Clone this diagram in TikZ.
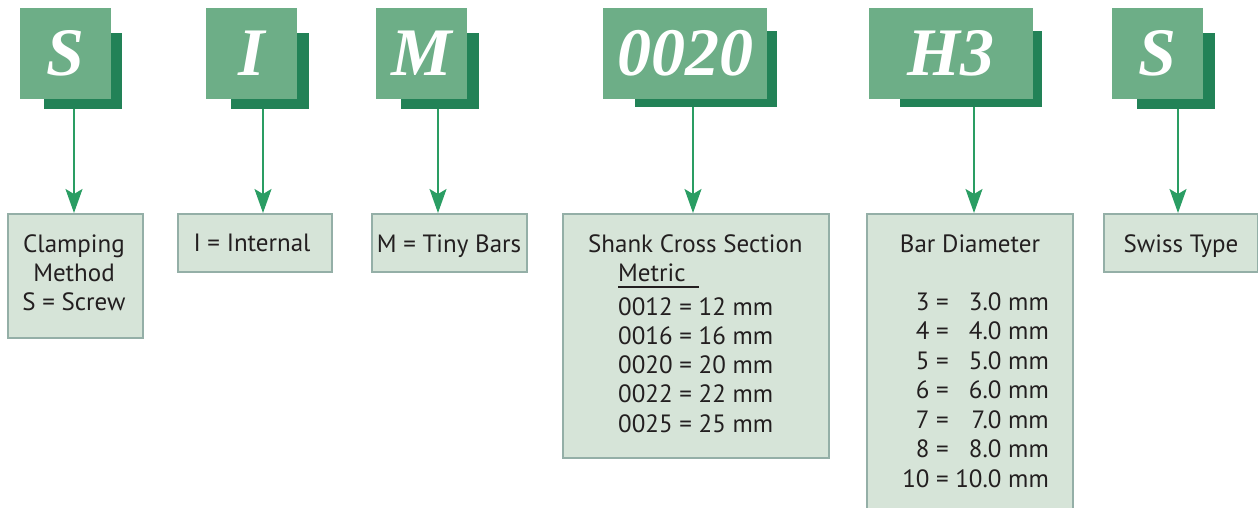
\documentclass[tikz,border=0pt]{standalone}
\usepackage{fontspec}
\setmainfont{PT Sans}
\newfontfamily\codefont{Liberation Serif}
\usetikzlibrary{arrows.meta}
\definecolor{lightg}{HTML}{6DAE87}
\definecolor{darkg}{HTML}{228257}
\definecolor{arrg}{HTML}{2A9D63}
\definecolor{boxfill}{HTML}{D6E4D8}
\definecolor{boxline}{HTML}{94AFA7}
\definecolor{txt}{HTML}{231F20}
\tikzset{
  codebox/.style={fill=lightg, inner sep=0pt, anchor=north west, text=white,
    font=\codefont\bfseries\itshape\fontsize{68}{68}\selectfont},
  shadowbox/.style={fill=darkg, inner sep=0pt, anchor=north west},
  infobox/.style={fill=boxfill, draw=boxline, line width=1.8pt, inner sep=0pt, anchor=north west},
  infotext/.style={inner sep=0pt, text=txt, font=\fontsize{25}{29.3}\selectfont},
  arr/.style={draw=arrg, line width=1.6pt, -{Stealth[length=24pt,width=17pt,inset=5pt]}},
}
\begin{document}
\begin{tikzpicture}[x=1pt,y=-1pt]
\useasboundingbox (0,0) rectangle (1258,508);
\clip (0,0) rectangle (1258,508);
% shadows
\node[shadowbox, minimum width=78pt, minimum height=76pt] (s1) at (44,33) {};
\node[shadowbox, minimum width=78pt, minimum height=76pt] (s2) at (231,33) {};
\node[shadowbox, minimum width=78pt, minimum height=76pt] (s3) at (401,33) {};
\node[shadowbox, minimum width=142pt, minimum height=76pt] (s4) at (635,31) {};
\node[shadowbox, minimum width=142pt, minimum height=76pt] (s5) at (900,31) {};
\node[shadowbox, minimum width=78pt, minimum height=76pt] (s6) at (1137,33) {};
% code boxes
\node[codebox, minimum width=91pt, minimum height=91pt] (c1) at (20,8) {S};
\node[codebox, minimum width=91pt, minimum height=91pt] (c2) at (206,8) {I};
\node[codebox, minimum width=91pt, minimum height=91pt] (c3) at (376,8) {M};
\node[codebox, minimum width=164pt, minimum height=91pt] (c4) at (603,8) {0020};
\node[codebox, minimum width=164pt, minimum height=91pt] (c5) at (869,8) {H3};
\node[codebox, minimum width=91pt, minimum height=91pt] (c6) at (1112,8) {S};
% info boxes
\node[infobox, minimum width=135pt, minimum height=124pt] (b1) at (7,213) {};
\node[infobox, minimum width=154pt, minimum height=58pt] (b2) at (177,213) {};
\node[infobox, minimum width=155pt, minimum height=58pt] (b3) at (371,213) {};
\node[infobox, minimum width=266pt, minimum height=244pt] (b4) at (562,213) {};
\node[infobox, minimum width=206pt, minimum height=305pt] (b5) at (866,213) {};
\node[infobox, minimum width=154pt, minimum height=58pt] (b6) at (1103,213) {};
% arrow columns
\coordinate (a1) at (74,0);
\coordinate (a2) at (263,0);
\coordinate (a3) at (438,0);
\coordinate (a4) at (693,0);
\coordinate (a5) at (974,0);
\coordinate (a6) at (1178,0);
\draw[arr] (s1.south -| a1) -- (b1.north -| a1);
\draw[arr] (s2.south -| a2) -- (b2.north -| a2);
\draw[arr] (s3.south -| a3) -- (b3.north -| a3);
\draw[arr] (s4.south -| a4) -- (b4.north -| a4);
\draw[arr] (s5.south -| a5) -- (b5.north -| a5);
\draw[arr] (s6.south -| a6) -- (b6.north -| a6);
% texts
\node[infotext, anchor=base] (t1) at (74,252) {\begin{tabular}[t]{@{}c@{}}Clamping\\Method\\S = Screw\end{tabular}};
\node[infotext, anchor=base] (t2) at (252,251) {I = Internal};
\node[infotext, anchor=base] (t3) at (449,252) {M = Tiny Bars};
\node[infotext, anchor=base west] (t4) at (588,252) {Shank Cross Section};
\node[infotext, anchor=base west] (t4m) at (618,281) {Metric};
\draw[txt, line width=1.4pt] ([yshift=-6pt]t4m.base west) -- ++(81,0);
\node[infotext, anchor=base west] (t4l) at (618,315) {\begin{tabular}[t]{@{}l@{}}0012 = 12 mm\\0016 = 16 mm\\0020 = 20 mm\\0022 = 22 mm\\0025 = 25 mm\end{tabular}};
\node[infotext, anchor=base] (t5) at (970,252) {Bar Diameter};
\node[infotext, anchor=base east, font=\fontsize{25}{29.5}\selectfont] (t5a) at (949,310) {\begin{tabular}[t]{@{}r@{}}3 =\\4 =\\5 =\\6 =\\7 =\\8 =\\10 =\end{tabular}};
\node[infotext, anchor=base east, font=\fontsize{25}{29.5}\selectfont] (t5b) at (1049,310) {\begin{tabular}[t]{@{}r@{}}3.0 mm\\4.0 mm\\5.0 mm\\6.0 mm\\7.0 mm\\8.0 mm\\10.0 mm\end{tabular}};
\node[infotext, anchor=base] (t6) at (1181,252) {Swiss Type};
\end{tikzpicture}
\end{document}
